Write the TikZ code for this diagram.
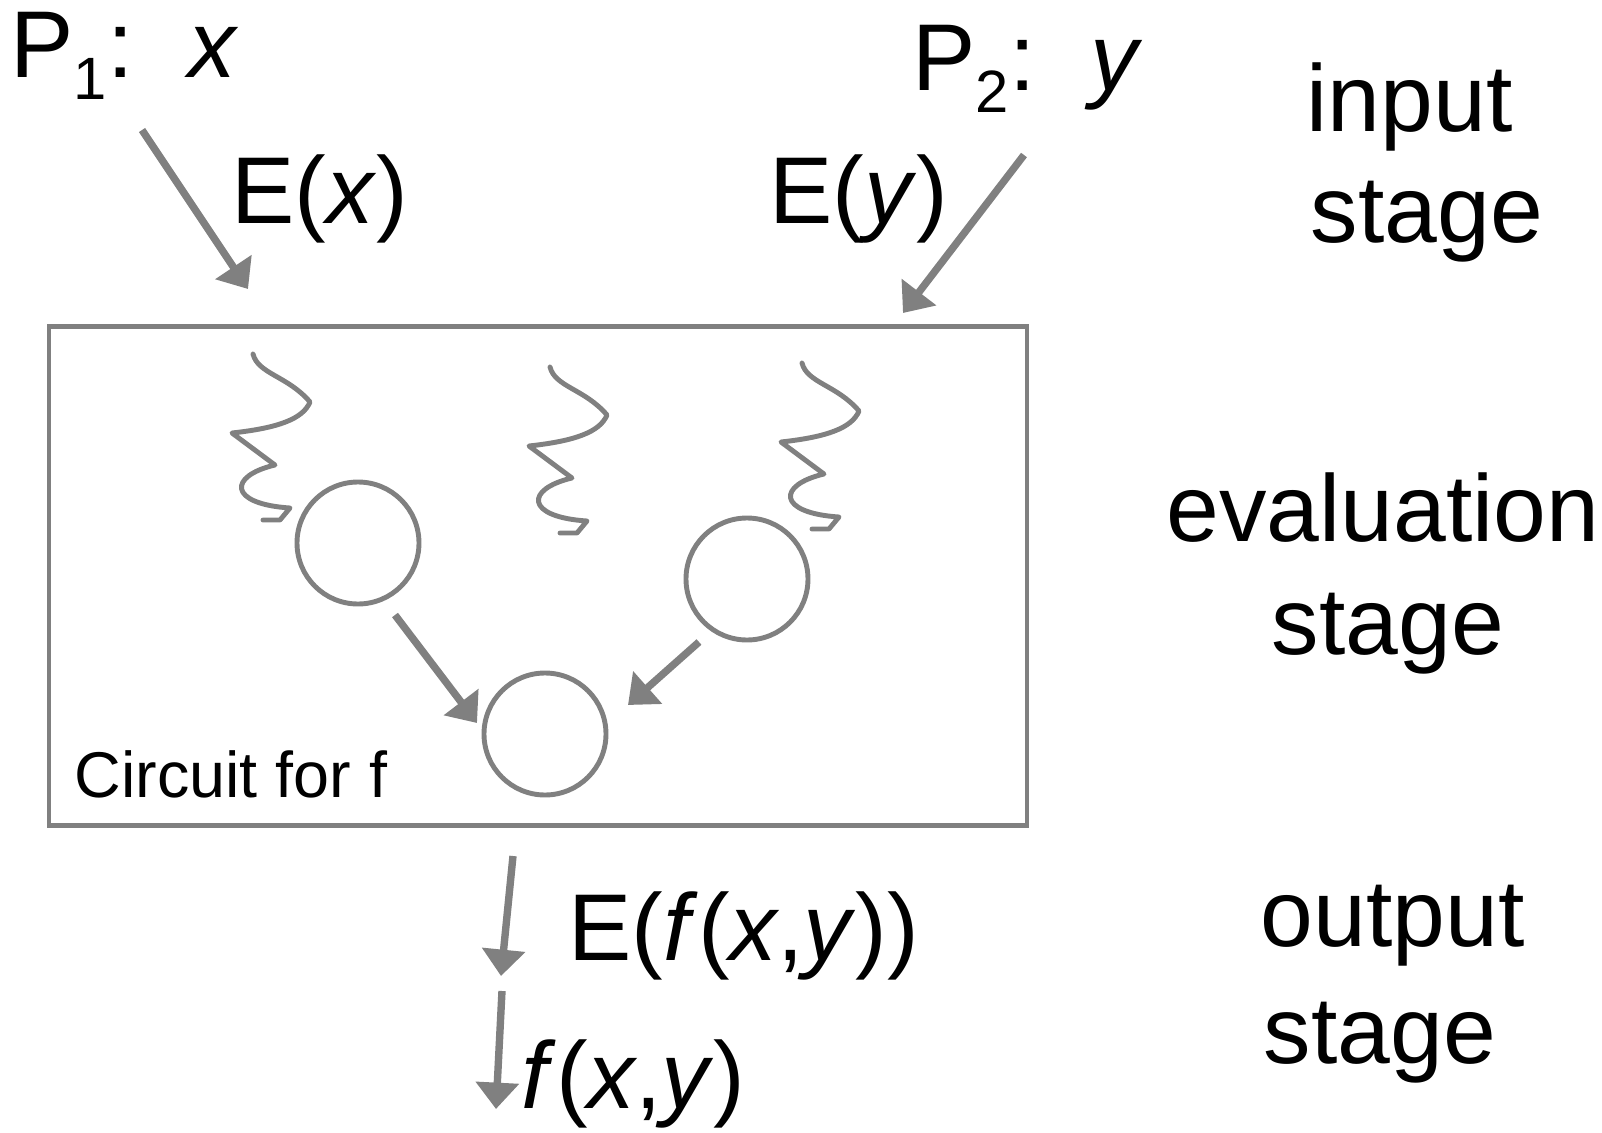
\documentclass[tikz,border=0pt]{standalone}
\usepackage{fontspec}
\setmainfont{Liberation Sans}
\usetikzlibrary{arrows.meta, positioning}
\definecolor{linegray}{RGB}{128,128,128}

\tikzset{
    flow/.style={draw=linegray, line width=2.1pt, -{Triangle[length=7.5pt,width=12pt]}},
    gate/.style={circle, draw=linegray, line width=1.4pt, inner sep=0pt, minimum size=12.2mm},
    wiggle/.style={draw=linegray, line width=1.4pt, line join=round, line cap=round},
    big/.style={font=\fontsize{27}{32}\selectfont, inner sep=0pt},
    small/.style={font=\fontsize{18.4}{22}\selectfont, inner sep=0pt}
}

\begin{document}
\begin{tikzpicture}[x=0.1mm, y=-0.1mm]
    \useasboundingbox (0,0) rectangle (1602,1133);

    % parties and their inputs
    \node[big, anchor=base west] (p1) at (10,77) {P\raisebox{-6.5pt}{\fontsize{17}{17}\selectfont 1}:\hspace{0.55cm}\textit{x}};
    \node[big, anchor=base west] (p2) at (912,90) {P\raisebox{-6.5pt}{\fontsize{17}{17}\selectfont 2}:\hspace{0.55cm}\textit{y}};
    \node[big, anchor=base west] (ex) at (231,223) {E(\textit{x})};
    \node[big, anchor=base west] (ey) at (769,223) {E(\textit{y})};

    % stage labels
    \node[big, anchor=base west] (input) at (1306,131) {input};
    \node[big, anchor=base west] (instage) at (1310,242) {stage};
    \node[big, anchor=base] (eval) at (1383,541) {evaluation};
    \node[big, anchor=base] (evalstage) at (1388,654) {stage};
    \node[big, anchor=base west] (output) at (1260,946) {output};
    \node[big, anchor=base west] (outstage) at (1263,1063) {stage};

    % circuit box
    \node[draw=linegray, line width=1.3pt, minimum width=97.8mm, minimum height=49.9mm] (circuit) at (538,576) {};
    \node[small, anchor=base west] (clabel) at (74,797) {Circuit for f};

    % gates
    \node[gate] (c1) at (358,543) {};
    \node[gate] (c2) at (747,579) {};
    \node[gate] (c3) at (545,734) {};

    % wires (squiggles)
    \begin{scope}[shift={(253,354)}]
        \draw[wiggle] (0,0) .. controls (5,20) and (35,22) .. (57,48)
            .. controls (50,65) and (25,74) .. (-21,79) -- (22,111)
            .. controls (-25,122) and (-25,150) .. (37,154) -- (27,166) -- (10,166);
    \end{scope}
    \begin{scope}[shift={(550,367)}]
        \draw[wiggle] (0,0) .. controls (5,20) and (35,22) .. (57,48)
            .. controls (50,65) and (25,74) .. (-21,79) -- (22,111)
            .. controls (-25,122) and (-25,150) .. (37,154) -- (27,166) -- (10,166);
    \end{scope}
    \begin{scope}[shift={(802,363)}]
        \draw[wiggle] (0,0) .. controls (5,20) and (35,22) .. (57,48)
            .. controls (50,65) and (25,74) .. (-21,79) -- (22,111)
            .. controls (-25,122) and (-25,150) .. (37,154) -- (27,166) -- (10,166);
    \end{scope}

    % input arrows
    \coordinate (in1) at (142,130);
    \coordinate (in1end) at (248,289);
    \coordinate (in2) at (1024,155);
    \coordinate (in2end) at (903,313);
    \draw[flow] (in1) -- (in1end);
    \draw[flow] (in2) -- (in2end);

    % gate arrows
    \coordinate (g1) at (395,615);
    \coordinate (g1end) at (477,723);
    \coordinate (g2) at (699,642);
    \coordinate (g2end) at (628,705);
    \draw[flow] (g1) -- (g1end);
    \draw[flow] (g2) -- (g2end);

    % output arrows
    \coordinate (out1) at (513,856);
    \coordinate (out1end) at (501,976);
    \coordinate (out2) at (502,991);
    \coordinate (out2end) at (496,1109);
    \draw[flow] (out1) -- (out1end);
    \draw[flow] (out2) -- (out2end);
    \node[big, anchor=base west] (efxy) at (568,960) {E(\textit{f}(\textit{x},\textit{y}))};
    \node[big, anchor=base west] (fxy) at (521,1108) {\textit{f}(\textit{x},\textit{y})};
\end{tikzpicture}
\end{document}
